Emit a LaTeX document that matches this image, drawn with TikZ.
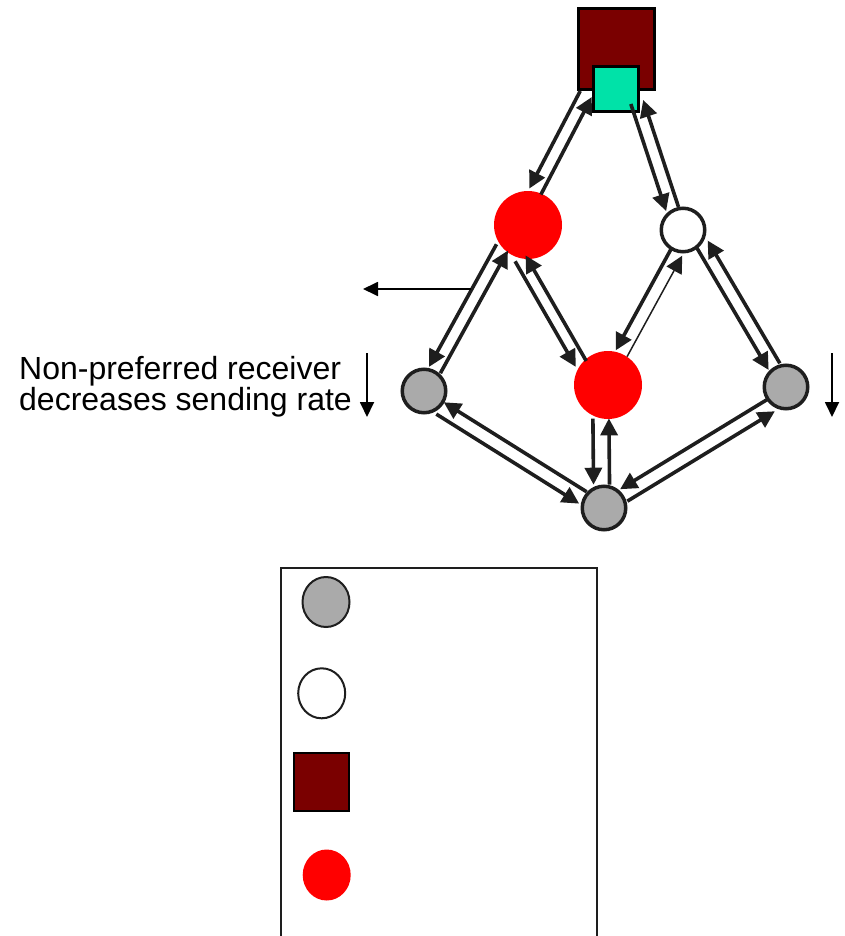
\documentclass[tikz,border=0pt]{standalone}
\usepackage{fontspec}
\setmainfont{Liberation Sans}
\usetikzlibrary{arrows.meta,calc,shapes.geometric}
\definecolor{gfill}{RGB}{170,170,170}
\definecolor{maroon}{RGB}{122,0,0}
\definecolor{tealc}{RGB}{0,226,168}
\definecolor{ink}{RGB}{30,30,30}
% #1: options for the return line, #2: from, #3: to, #4: half spacing
\newcommand{\twoway}[4][]{%
  \draw[edge] ($(#2)!#4!-90:(#3)$) -- ($(#3)!#4!90:(#2)$);
  \draw[edge, #1] ($(#3)!#4!-90:(#2)$) -- ($(#2)!#4!90:(#3)$);
}
\tikzset{
  edge/.style={draw=ink, line width=3.6pt, -{Triangle[length=17pt,width=17pt]}},
  thinarr/.style={draw=black, line width=1.8pt, -{Triangle[length=15pt,width=14pt]}},
  grc/.style={circle, draw=ink, fill=gfill, line width=3.5pt, minimum size=43.5pt, inner sep=0pt},
  whc/.style={circle, draw=ink, fill=white, line width=3.5pt, minimum size=43.5pt, inner sep=0pt},
  redc/.style={circle, fill=red, minimum size=68pt, inner sep=0pt},
  sqbig/.style={rectangle, draw=black, fill=maroon, line width=3pt, minimum width=76pt, minimum height=81pt, inner sep=0pt},
  sqsmall/.style={rectangle, draw=black, fill=tealc, line width=3pt, minimum size=45pt, inner sep=0pt},
  lgc/.style={ellipse, draw=ink, line width=2pt, minimum width=47pt, minimum height=50pt, inner sep=0pt},
}
\begin{document}
\begin{tikzpicture}[x=1pt,y=-1pt]
\useasboundingbox (0,0) rectangle (844,936);
% nodes
\node[sqbig] (src) at (616.5,49) {};
\node[sqsmall] (tl) at (616,89) {};
\coordinate (sqL) at (586,94);
\coordinate (sqR) at (637,102);
\node[redc] (R1) at (528,225) {};
\node[whc] (W) at (683,230) {};
\node[grc] (G1) at (424,391) {};
\node[redc] (R2) at (608,385) {};
\node[grc] (G3) at (786,387) {};
\node[grc] (G2) at (604,508) {};
% edges
\twoway{sqL}{R1.78}{6.5pt}
\twoway{sqR}{W.117}{6.5pt}
\twoway{R1.221}{G1.63}{6.5pt}
\twoway{R1.257}{R2.142}{6pt}
\twoway[line width=1.5pt]{W.254}{R2.67}{6.5pt}
\twoway{W.-36}{G3.120}{6.5pt}
\twoway{G1.-47}{G2.154}{7pt}
\twoway{R2.258}{G2.96}{8pt}
\twoway{G3.231}{G2.33}{7pt}
% side arrows
\coordinate (hs) at (471,289);
\coordinate (he) at (363,289);
\draw[thinarr] (hs) -- (he);
\coordinate (d1s) at (367,353);
\coordinate (d1e) at (367,417);
\draw[thinarr] (d1s) -- (d1e);
\coordinate (d2s) at (832,353);
\coordinate (d2e) at (832,417);
\draw[thinarr] (d2s) -- (d2e);
\node[anchor=west, align=left, inner sep=0pt, font=\fontsize{32}{31}\selectfont] (txt) at (19,387) {Non-preferred receiver\\decreases sending rate};
% legend
\coordinate (lb1) at (280.5,940);
\coordinate (lb2) at (280.5,567.5);
\coordinate (lb3) at (596.5,567.5);
\coordinate (lb4) at (596.5,940);
\draw[draw=ink, line width=2pt] (lb1) -- (lb2) -- (lb3) -- (lb4);
\node[lgc, fill=gfill] (lg1) at (326,602) {};
\node[lgc, fill=white] (lg2) at (321.7,693.3) {};
\node[rectangle, draw=black, fill=maroon, line width=2.2pt, minimum width=55pt, minimum height=58pt, inner sep=0pt] (lg3) at (321.7,782) {};
\node[ellipse, fill=red, minimum width=48pt, minimum height=51pt, inner sep=0pt] (lg4) at (326.7,875) {};
\end{tikzpicture}
\end{document}
